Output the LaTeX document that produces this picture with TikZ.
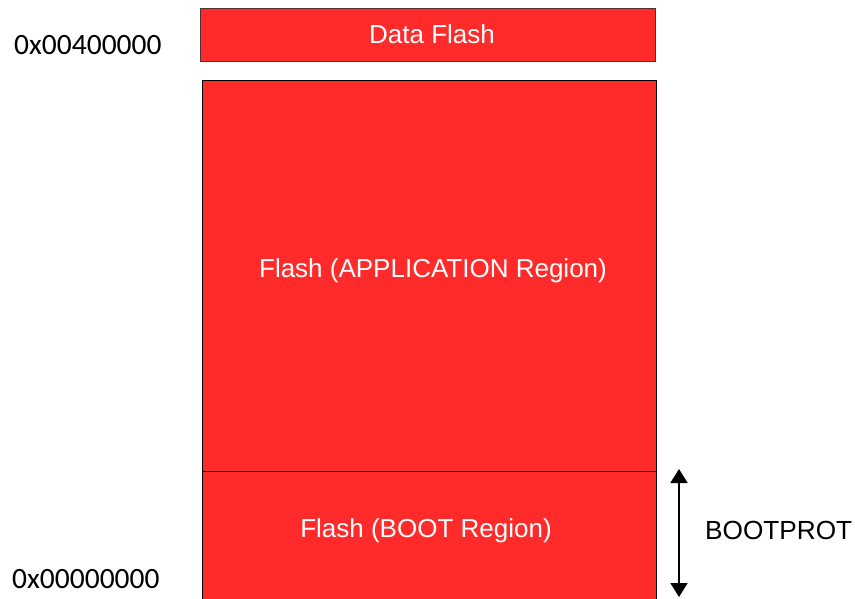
\documentclass[tikz,border=0pt]{standalone}
\usepackage{fontspec}
\setmainfont{Liberation Sans}
\newfontfamily\hexfont{Carlito}
\usetikzlibrary{arrows.meta}
\definecolor{flashred}{RGB}{255,42,42}
\definecolor{dfborder}{RGB}{80,50,50}
\tikzset{
  region/.style={fill=flashred, draw=black, line width=1pt, inner sep=0pt, outer sep=0pt},
  regiontext/.style={text=white, font=\fontsize{26}{31}\selectfont, inner sep=0pt},
  addr/.style={font=\hexfont\fontsize{29.5}{34}\selectfont, anchor=west, inner sep=0pt},
  sidelabel/.style={font=\fontsize{26.2}{31}\selectfont, anchor=west, inner sep=0pt}
}
\begin{document}
\begin{tikzpicture}[x=1pt,y=-1pt]
\useasboundingbox (0,0) rectangle (855,598);
\begin{scope}
\clip (0,0) rectangle (855,598);
\draw[region, draw=dfborder] (200,8) rectangle (655,61);
\draw[region] (202,80) rectangle (656,471);
\draw[region] (202,471) rectangle (656,620);
\end{scope}
\node[regiontext] (df) at (432,34) {Data Flash};
\node[regiontext] (app) at (433,271) {Flash (APPLICATION Region)};
\node[regiontext] (boot) at (426,531) {Flash (BOOT Region)};
\node[addr] (top) at (14,45) {0x00400000};
\node[addr] (bot) at (12,579) {0x00000000};
\node[sidelabel] (bp) at (705,530) {BOOTPROT};
\coordinate (aTop) at (679,469);
\coordinate (aBot) at (679,597);
\draw[line width=1.8pt, {Triangle[width=17pt,length=14pt]}-{Triangle[width=17pt,length=14pt]}] (aTop) -- (aBot);
\end{tikzpicture}
\end{document}
